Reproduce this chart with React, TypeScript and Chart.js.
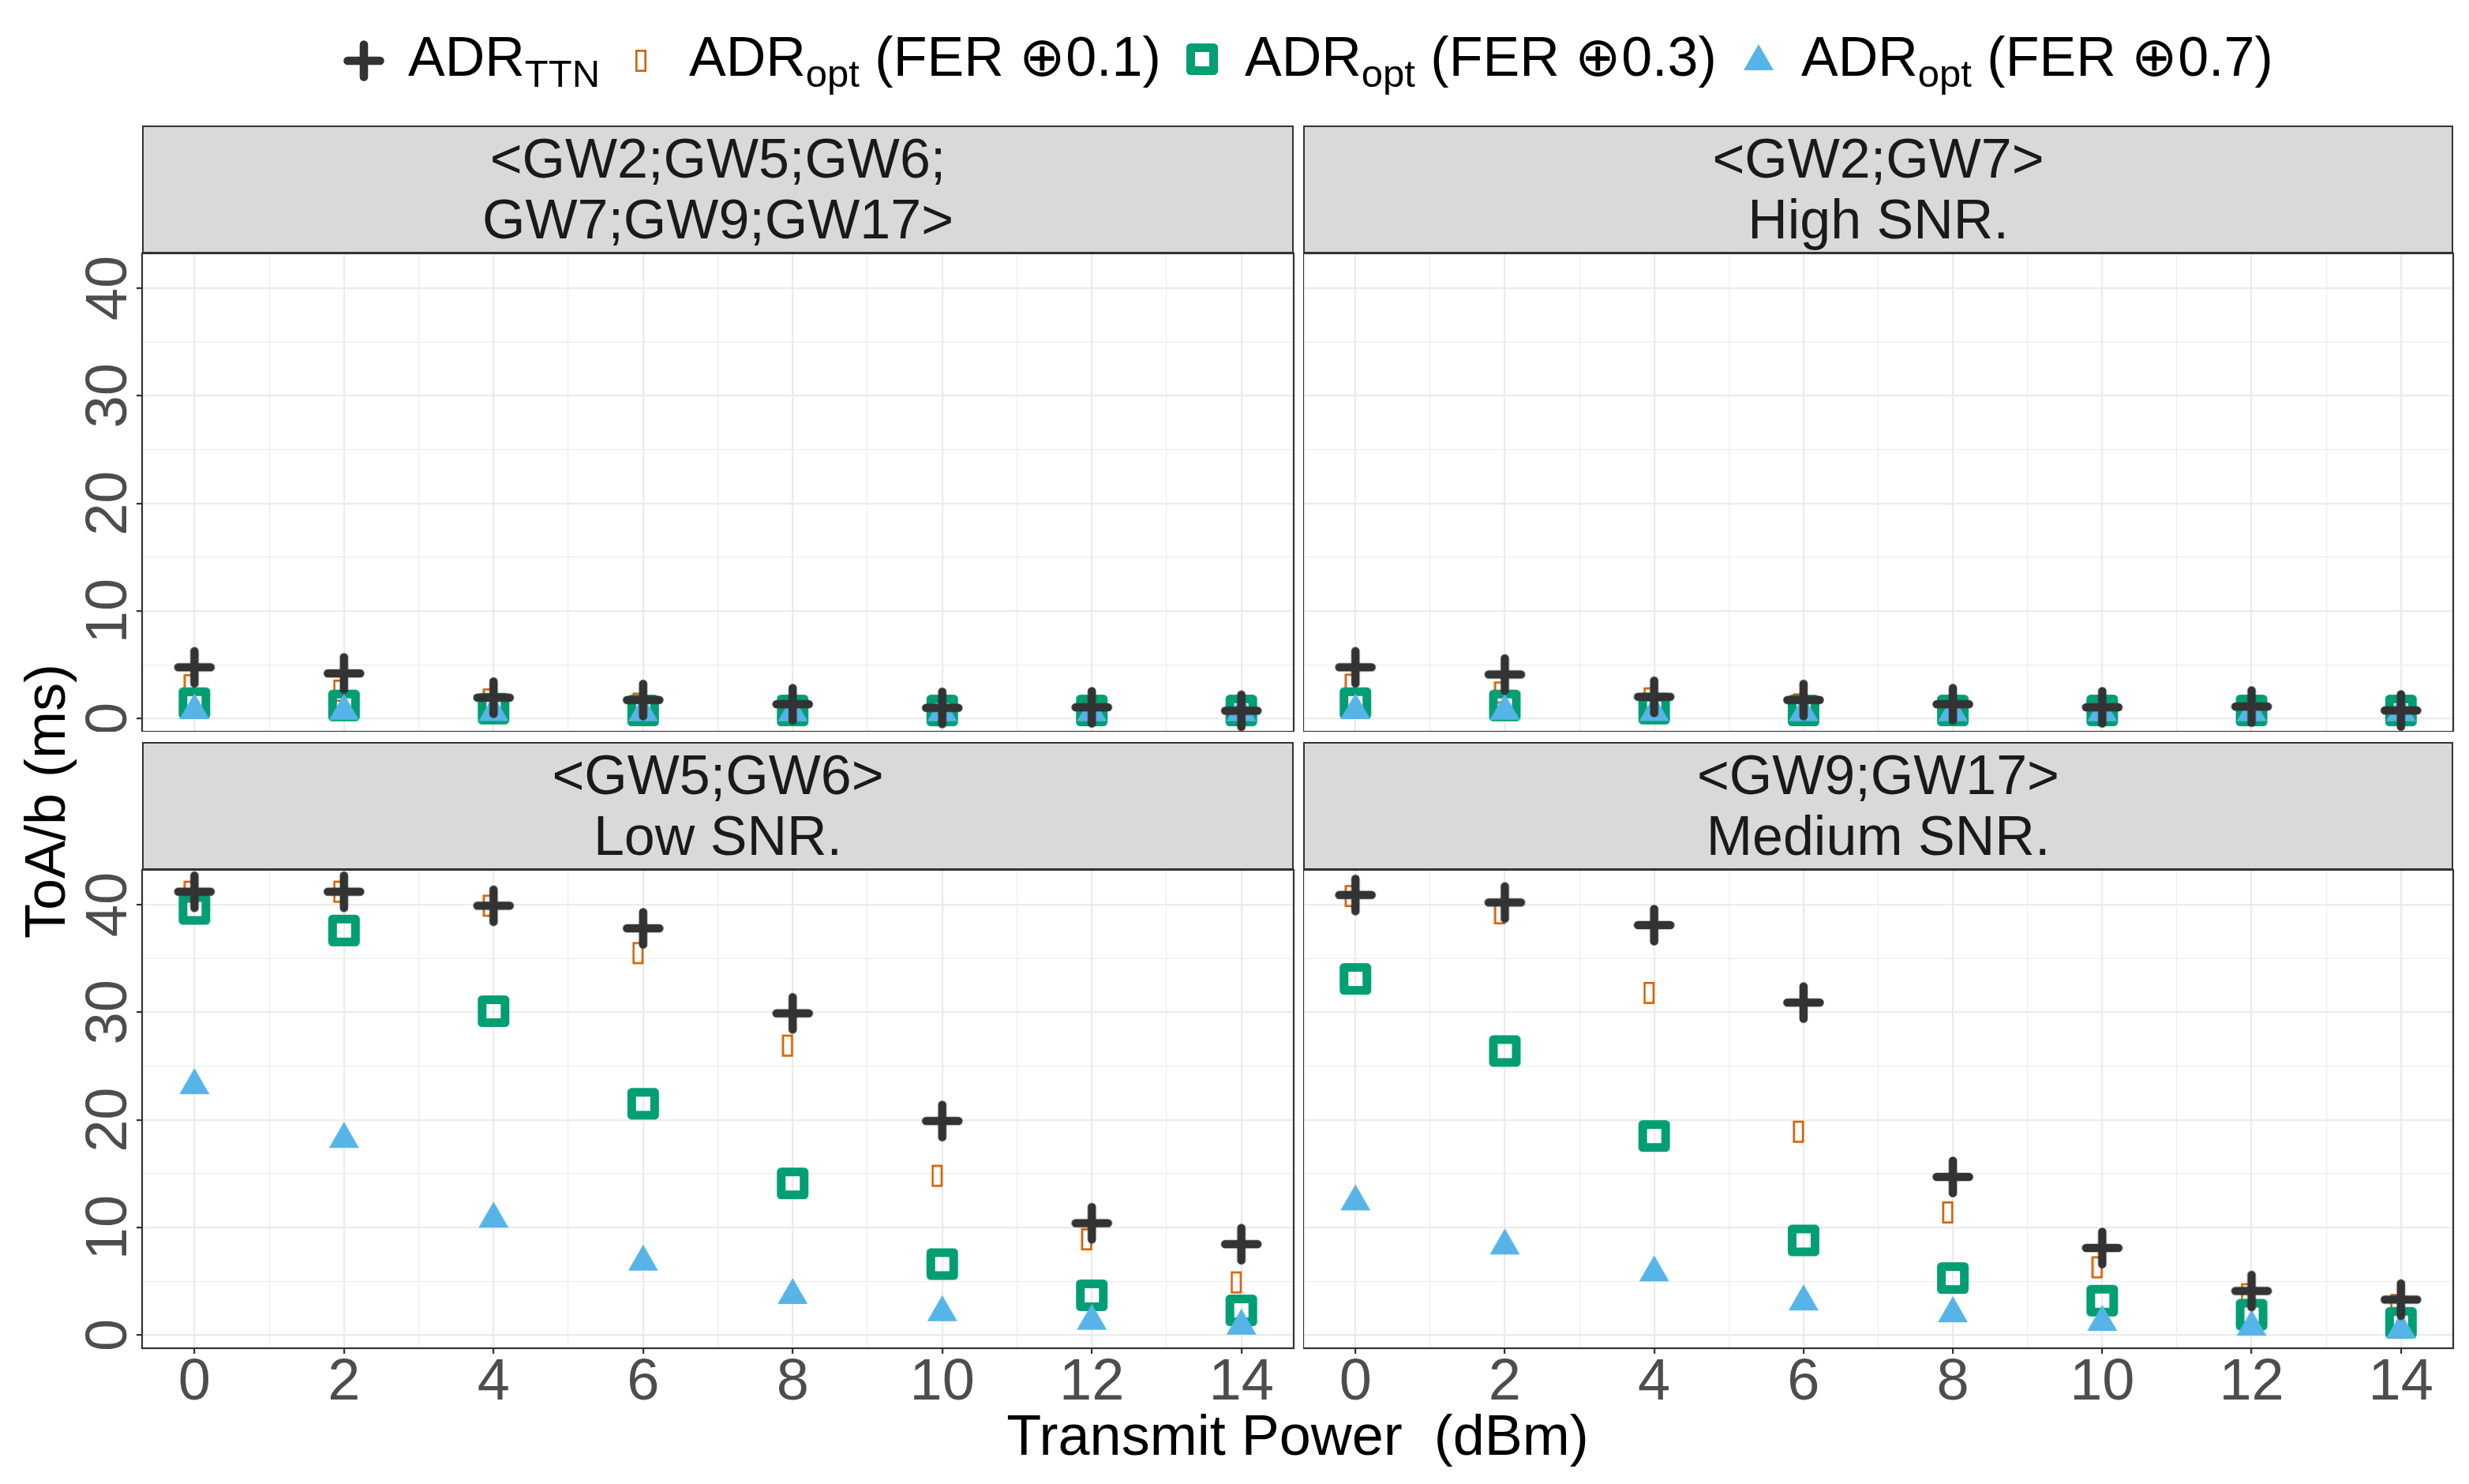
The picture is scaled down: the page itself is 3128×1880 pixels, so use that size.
import React, { useEffect, useRef } from "react";
import { Chart, registerables } from "chart.js";

Chart.register(...registerables);

const FONT = '"Liberation Sans", Arial, Helvetica, sans-serif';

// ---------------- data ----------------
const powers = [0, 2, 4, 6, 8, 10, 12, 14];
const xMajorTicks = [0, 2, 4, 6, 8, 10, 12, 14];
const xMinorTicks = [1, 3, 5, 7, 9, 11, 13];
const xTickLabels = ["0", "2", "4", "6", "8", "10", "12", "14"];
const yMajorTicks = [0, 10, 20, 30, 40];
const yMinorTicks = [5, 15, 25, 35];
const yTickLabels = ["0", "10", "20", "30", "40"];

const seriesNames = ["ADR_TTN", "ADR_opt (FER ⊕0.1)", "ADR_opt (FER ⊕0.3)", "ADR_opt (FER ⊕0.7)"];

const panelTitles = [
  ["<GW2;GW5;GW6;", "GW7;GW9;GW17>"],
  ["<GW2;GW7>", "High SNR."],
  ["<GW5;GW6>", "Low SNR."],
  ["<GW9;GW17>", "Medium SNR."],
];

// All gateways
const allTTN = [4.77, 4.2, 1.95, 1.73, 1.34, 1.0, 1.05, 0.73];
const allFer01 = [3.1, 2.6, 1.78, 1.39, 1.1, 0.95, 0.95, 0.8];
const allFer03 = [1.44, 1.22, 0.93, 0.76, 0.76, 0.76, 0.76, 0.76];
const allFer07 = [0.76, 0.7, 0.58, 0.56, 0.56, 0.56, 0.56, 0.56];
// High SNR
const highTTN = [4.77, 4.1, 2.03, 1.73, 1.34, 1.05, 1.12, 0.76];
const highFer01 = [3.15, 2.42, 1.88, 1.32, 1.1, 0.95, 0.95, 0.8];
const highFer03 = [1.44, 1.22, 0.93, 0.76, 0.76, 0.76, 0.76, 0.76];
const highFer07 = [0.76, 0.7, 0.58, 0.56, 0.56, 0.56, 0.56, 0.56];
// Low SNR
const lowTTN = [41.2, 41.2, 39.9, 37.8, 29.9, 19.9, 10.4, 8.45];
const lowFer01 = [41.2, 41.2, 39.9, 35.5, 26.9, 14.8, 8.9, 4.9];
const lowFer03 = [39.6, 37.6, 30.1, 21.5, 14.1, 6.6, 3.7, 2.3];
const lowFer07 = [23.2, 18.2, 10.8, 6.8, 3.7, 2.1, 1.3, 0.85];
// Medium SNR
const medTTN = [40.9, 40.2, 38.1, 30.9, 14.7, 8.1, 4.1, 3.3];
const medFer01 = [40.8, 39.2, 31.8, 18.9, 11.4, 6.3, 3.8, 2.8];
const medFer03 = [33.1, 26.4, 18.5, 8.8, 5.3, 3.2, 1.9, 1.15];
const medFer07 = [12.4, 8.3, 5.8, 3.1, 2.0, 1.2, 0.75, 0.5];

// ---------------- layout ----------------
const Y_MIN = -1.22;
const Y_MAX = 43.23;
const X_MIN = -0.7;
const X_MAX = 14.7;
const PLOT_H = 606;
const Y_AXIS_W = 180;
const X_AXIS_H = 94;

type PanelSpec = {
  ttn: number[];
  f01: number[];
  f03: number[];
  f07: number[];
  title: string[];
  showY: boolean;
  showX: boolean;
  left: number;
  top: number;
  width: number;
};

const panels: PanelSpec[] = [
  { ttn: allTTN, f01: allFer01, f03: allFer03, f07: allFer07, title: panelTitles[0], showY: true, showX: false, left: 180, top: 321, width: 1459 },
  { ttn: highTTN, f01: highFer01, f03: highFer03, f07: highFer07, title: panelTitles[1], showY: false, showX: false, left: 1651, top: 321, width: 1457 },
  { ttn: lowTTN, f01: lowFer01, f03: lowFer03, f07: lowFer07, title: panelTitles[2], showY: true, showX: true, left: 180, top: 1102, width: 1459 },
  { ttn: medTTN, f01: medFer01, f03: medFer03, f07: medFer07, title: panelTitles[3], showY: false, showX: true, left: 1651, top: 1102, width: 1457 },
];

const C_TTN = "#333333";
const C_F01 = "#D55E00";
const C_F03 = "#009E73";
const C_F07 = "#56B4E9";

// ---------------- point symbols ----------------
function makeCross(): HTMLCanvasElement {
  const c = document.createElement("canvas");
  c.width = 56;
  c.height = 56;
  const g = c.getContext("2d")!;
  g.strokeStyle = C_TTN;
  g.lineWidth = 10.6;
  g.lineCap = "round";
  g.beginPath();
  g.moveTo(28, 7.5);
  g.lineTo(28, 48.5);
  g.moveTo(7.5, 28);
  g.lineTo(48.5, 28);
  g.stroke();
  return c;
}
function makeTofu(): HTMLCanvasElement {
  const c = document.createElement("canvas");
  c.width = 28;
  c.height = 32;
  const g = c.getContext("2d")!;
  g.strokeStyle = C_F01;
  g.lineWidth = 2.6;
  g.strokeRect(1.8, 3.3, 11.4, 25.4);
  return c;
}
function makeSquare(): HTMLCanvasElement {
  const c = document.createElement("canvas");
  c.width = 44;
  c.height = 44;
  const g = c.getContext("2d")!;
  g.strokeStyle = C_F03;
  g.lineWidth = 11;
  g.lineJoin = "round";
  g.strokeRect(22 - 14.5, 22 - 14.5, 29, 29);
  return c;
}
function makeTriangle(): HTMLCanvasElement {
  const c = document.createElement("canvas");
  c.width = 48;
  c.height = 48;
  const g = c.getContext("2d")!;
  const h = 32.9;
  g.fillStyle = C_F07;
  g.beginPath();
  g.moveTo(24, 24 - (2 * h) / 3);
  g.lineTo(24 + 19, 24 + h / 3);
  g.lineTo(24 - 19, 24 + h / 3);
  g.closePath();
  g.fill();
  return c;
}

const panelBorder = {
  id: "panelBorder",
  afterDraw(chart: any) {
    const { ctx, chartArea: a } = chart;
    ctx.save();
    ctx.strokeStyle = "#333333";
    ctx.lineWidth = 2.2;
    ctx.strokeRect(a.left, a.top, a.right - a.left, a.bottom - a.top);
    ctx.restore();
  },
};

function toPoints(vals: number[]) {
  return powers.map((x, i) => ({ x, y: vals[i] }));
}

function zeroPad(s: any) {
  s.paddingTop = 0;
  s.paddingBottom = 0;
  s.paddingLeft = 0;
  s.paddingRight = 0;
}

function Panel({ spec }: { spec: PanelSpec }) {
  const ref = useRef<HTMLCanvasElement>(null);
  const cw = (spec.showY ? Y_AXIS_W : 0) + spec.width + 7;
  const ch = 4 + PLOT_H + (spec.showX ? X_AXIS_H : 0);
  const cl = spec.showY ? spec.left - Y_AXIS_W : spec.left;
  const ct = spec.top - 4;

  useEffect(() => {
    const cross = makeCross();
    const tofu = makeTofu();
    const square = makeSquare();
    const tri = makeTriangle();
    const xGrid = [...xMajorTicks, ...xMinorTicks].sort((a, b) => a - b);
    const yGrid = [...yMajorTicks, ...yMinorTicks].sort((a, b) => a - b);
    const chart = new Chart(ref.current!, {
      type: "scatter",
      data: {
        datasets: [
          { label: seriesNames[0], data: toPoints(spec.ttn), pointStyle: cross as any, pointRadius: 12, order: 0 },
          { label: seriesNames[3], data: toPoints(spec.f07), pointStyle: tri as any, pointRadius: 12, order: 1 },
          { label: seriesNames[2], data: toPoints(spec.f03), pointStyle: square as any, pointRadius: 12, order: 2 },
          { label: seriesNames[1], data: toPoints(spec.f01), pointStyle: tofu as any, pointRadius: 12, order: 3 },
        ],
      },
      options: {
        responsive: false,
        animation: false,
        devicePixelRatio: 1,
        events: [],
        layout: { padding: { left: 0, right: 7, top: 4, bottom: 0 }, autoPadding: false } as any,
        plugins: { legend: { display: false }, tooltip: { enabled: false } },
        scales: {
          x: {
            type: "linear",
            min: X_MIN,
            max: X_MAX,
            bounds: "data",
            afterBuildTicks: (s: any) => {
              s.ticks = xGrid.map((v) => ({ value: v }));
            },
            afterFit: (s: any) => {
              s.height = spec.showX ? X_AXIS_H : 0;
              zeroPad(s);
            },
            border: { display: false },
            grid: {
              color: "#EBEBEB",
              lineWidth: (c: any) => (xMajorTicks.includes(c.tick?.value) ? 2.2 : 1.1),
              drawTicks: spec.showX,
              tickLength: 7,
              tickWidth: 2.2,
              tickColor: (c: any) => (xMajorTicks.includes(c.tick?.value) ? "#333333" : "rgba(0,0,0,0)"),
            },
            ticks: {
              display: spec.showX,
              autoSkip: false,
              maxRotation: 0,
              minRotation: 0,
              padding: -7,
              color: "#4D4D4D",
              font: { family: FONT, size: 74 },
              callback: (v: any) => {
                const i = xMajorTicks.indexOf(Number(v));
                return i >= 0 ? xTickLabels[i] : "";
              },
            },
          },
          y: {
            type: "linear",
            min: Y_MIN,
            max: Y_MAX,
            bounds: "data",
            afterBuildTicks: (s: any) => {
              s.ticks = yGrid.map((v) => ({ value: v }));
            },
            afterFit: (s: any) => {
              s.width = spec.showY ? Y_AXIS_W : 0;
              zeroPad(s);
            },
            border: { display: false },
            grid: {
              color: "#EBEBEB",
              lineWidth: (c: any) => (yMajorTicks.includes(c.tick?.value) ? 2.2 : 1.1),
              drawTicks: spec.showY,
              tickLength: 7,
              tickWidth: 2.2,
              tickColor: (c: any) => (yMajorTicks.includes(c.tick?.value) ? "#333333" : "rgba(0,0,0,0)"),
            },
            ticks: {
              display: spec.showY,
              autoSkip: false,
              minRotation: 90,
              maxRotation: 90,
              crossAlign: "center",
              padding: -8,
              color: "#4D4D4D",
              font: { family: FONT, size: 74 },
              callback: (v: any) => {
                const i = yMajorTicks.indexOf(Number(v));
                return i >= 0 ? yTickLabels[i] : "";
              },
            },
          },
        },
      },
      plugins: [panelBorder],
    } as any);
    return () => chart.destroy();
  }, [spec]);

  return (
    <canvas
      ref={ref}
      width={cw}
      height={ch}
      style={{ position: "absolute", left: cl, top: ct, width: cw, height: ch }}
    />
  );
}

function Strip({ spec }: { spec: PanelSpec }) {
  return (
    <div
      style={{
        position: "absolute",
        left: spec.left,
        top: spec.top - 162,
        width: spec.width,
        height: 162,
        boxSizing: "border-box",
        background: "#D9D9D9",
        border: "2.2px solid #333333",
        display: "flex",
        flexDirection: "column",
        alignItems: "center",
        justifyContent: "center",
        color: "#1A1A1A",
        fontSize: 70,
        lineHeight: "77.5px",
        whiteSpace: "pre",
      }}
    >
      {spec.title.map((t, i) => (
        <div key={i}>{t}</div>
      ))}
    </div>
  );
}

function LegendLabel({ name, left }: { name: string; left: number }) {
  const [main, rest] = name.split("_");
  const m = rest.match(/^(\w+)(.*)$/)!;
  return (
    <div
      style={{
        position: "absolute",
        left,
        top: 96 - 0.8465 * 70,
        fontSize: 70,
        lineHeight: "70px",
        whiteSpace: "pre",
        color: "#000",
      }}
    >
      {main}
      <span style={{ fontSize: 49, verticalAlign: -14 }}>{m[1]}</span>
      {m[2]}
    </div>
  );
}

export default function App() {
  return (
    <div
      style={{
        position: "absolute",
        left: 0,
        top: 0,
        width: 3128,
        height: 1880,
        background: "#ffffff",
        fontFamily: FONT,
        overflow: "hidden",
      }}
    >
      {/* legend */}
      <svg style={{ position: "absolute", left: 461 - 28, top: 77 - 28 }} width={56} height={56}>
        <path d="M28 7.5 V48.5 M7.5 28 H48.5" stroke={C_TTN} strokeWidth={10.6} strokeLinecap="round" fill="none" />
      </svg>
      <LegendLabel name={seriesNames[0]} left={517} />
      <svg style={{ position: "absolute", left: 812 - 10, top: 77 - 16 }} width={20} height={32}>
        <rect x={4.3} y={3.3} width={11.4} height={25.4} stroke={C_F01} strokeWidth={2.6} fill="none" />
      </svg>
      <LegendLabel name={seriesNames[1]} left={873} />
      <svg style={{ position: "absolute", left: 1523 - 22, top: 75 - 22 }} width={44} height={44}>
        <rect x={7.5} y={7.5} width={29} height={29} stroke={C_F03} strokeWidth={11} strokeLinejoin="round" fill="none" />
      </svg>
      <LegendLabel name={seriesNames[2]} left={1577} />
      <svg style={{ position: "absolute", left: 2228 - 24, top: 78 - 24 }} width={48} height={48}>
        <polygon points={`24,${24 - (2 * 32.9) / 3} 43,${24 + 32.9 / 3} 5,${24 + 32.9 / 3}`} fill={C_F07} />
      </svg>
      <LegendLabel name={seriesNames[3]} left={2282} />

      {panels.map((p, i) => (
        <Strip key={"s" + i} spec={p} />
      ))}
      {panels.map((p, i) => (
        <Panel key={"p" + i} spec={p} />
      ))}

      {/* axis titles */}
      <div
        style={{
          position: "absolute",
          left: 56.6,
          top: 1014.5,
          transform: "translate(-50%, -50%) rotate(-90deg)",
          fontSize: 72,
          lineHeight: "72px",
          whiteSpace: "pre",
          color: "#000",
        }}
      >
        ToA/b (ms)
      </div>
      <div
        style={{
          position: "absolute",
          left: 1644,
          top: 1843 - 0.8465 * 72,
          transform: "translateX(-50%)",
          fontSize: 72,
          lineHeight: "72px",
          whiteSpace: "pre",
          color: "#000",
        }}
      >
        Transmit Power  (dBm)
      </div>
    </div>
  );
}
